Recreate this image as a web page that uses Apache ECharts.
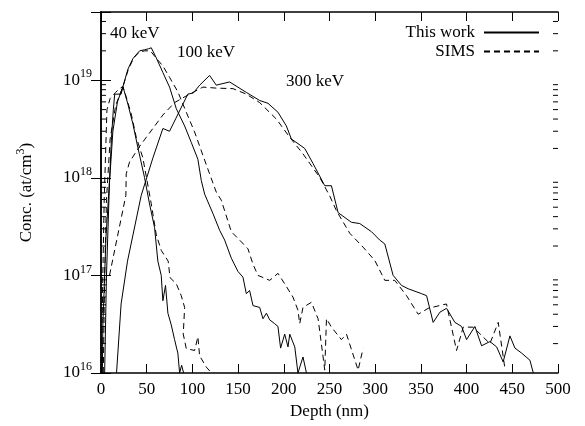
<!DOCTYPE html>
<html>
<head>
<meta charset="utf-8">
<script src="https://cdn.jsdelivr.net/npm/echarts@6/dist/echarts.min.js"></script>
<style>
  html, body { margin: 0; padding: 0; background: #fff; }
  #chart { width: 585px; height: 426px; }
</style>
</head>
<body>
<div id="chart"></div>
<script>
// depth (nm), concentration (at/cm3)
var work40 = [[1.5,1.0e16],[2.0,3.0e16],[5.5,2.5e17],[9.3,9.4e17],[11.5,2.6e18],[13.5,5.0e18],[15.0,7.2e18],[22.0,7.2e18],[24.0,8.6e18],[29.4,5.7e18],[34.8,3.6e18],[40.3,2.05e18],[47.6,1.01e18],[53.1,5.4e17],[58.6,3.1e17],[62.2,1.4e17],[65.9,1.0e17],[67.7,5.5e16],[70.6,7.9e16],[73.2,4.1e16],[76.9,3.1e16],[80.5,2.2e16],[82.7,1.8e16],[84.1,1.6e16],[86.0,1.0e16],[88.2,1.2e16],[90.4,1.0e16]];
var sims40 = [[0.5,1.0e16],[2.0,1.0e17],[3.5,6.0e17],[6.5,5.0e18],[10.0,6.5e18],[16.0,7.5e18],[20.0,8.2e18],[24.0,8.6e18],[27.5,6.8e18],[33.1,4.5e18],[38.6,2.6e18],[45.8,1.6e18],[55.0,5.4e17],[60.5,2.6e17],[66.0,1.8e17],[73.5,1.4e17],[75.5,9.5e16],[82.4,8.2e16],[87.8,6.2e16],[91.5,4.7e16],[90.0,2.5e16],[93.3,1.78e16],[102.4,1.7e16],[106.0,2.35e16],[107.9,1.5e16],[115.2,1.15e16],[121.0,1.0e16]];
var work100 = [[4.0,1.0e16],[6.0,1.0e17],[9.3,9.0e17],[13.0,3.0e18],[18.0,6.0e18],[24.0,8.6e18],[29.5,1.3e19],[34.8,1.66e19],[42.2,2.0e19],[47.6,2.05e19],[52.0,2.1e19],[55.0,2.15e19],[60.4,1.7e19],[67.7,1.2e19],[75.0,8.5e18],[82.4,5.1e18],[91.5,3.4e18],[98.8,2.3e18],[106.0,1.55e18],[109.7,9.4e17],[113.4,6.8e17],[122.5,4.3e17],[129.8,2.9e17],[135.3,2.3e17],[142.6,1.5e17],[149.8,1.1e17],[155.3,9.6e16],[159.0,6.5e16],[162.6,7.0e16],[166.3,4.9e16],[173.6,4.7e16],[177.2,3.6e16],[181.0,4.1e16],[184.6,3.5e16],[190.0,3.2e16],[193.6,3.0e16],[196.5,1.8e16],[201.0,2.5e16],[204.6,1.85e16],[206.5,2.5e16],[212.0,1.85e16],[215.5,1.0e16],[221.0,1.46e16],[224.8,1.0e16]];
var sims100 = [[2.5,1.0e16],[4.0,1.0e17],[6.0,6.0e17],[10.0,2.5e18],[16.0,5.5e18],[24.0,8.6e18],[30.0,1.3e19],[36.0,1.7e19],[42.0,1.95e19],[48.0,2.0e19],[54.0,2.0e19],[60.0,1.7e19],[67.7,1.4e19],[75.0,1.07e19],[84.1,7.6e18],[93.3,4.7e18],[102.4,2.95e18],[111.5,1.7e18],[118.8,1.1e18],[126.2,7.1e17],[131.6,5.9e17],[142.6,2.8e17],[151.7,2.3e17],[160.8,1.87e17],[166.3,1.3e17],[171.7,1.0e17],[184.6,8.9e16],[193.6,1.05e17],[201.0,8.2e16],[210.0,6.0e16],[215.5,4.4e16],[217.4,3.2e16],[221.0,4.7e16],[230.2,5.3e16],[237.5,3.6e16],[243.0,1.46e16],[244.8,1.07e16],[246.7,3.6e16],[252.1,2.95e16],[263.0,2.2e16],[268.6,2.5e16],[281.3,1.07e16],[286.7,1.78e16]];
var work300 = [[17.0,1.0e16],[22.0,5.1e16],[29.0,1.4e17],[44.0,6.6e17],[56.8,1.6e18],[67.7,3.2e18],[75.0,3.0e18],[95.0,7.2e18],[101.0,7.4e18],[108.0,8.9e18],[118.8,1.12e19],[126.1,8.9e18],[140.7,9.6e18],[159.0,7.5e18],[173.6,6.2e18],[182.7,5.8e18],[193.6,4.7e18],[202.8,3.4e18],[208.3,2.5e18],[222.9,2.0e18],[232.0,1.4e18],[244.8,8.3e17],[252.1,8.3e17],[259.4,4.4e17],[274.0,3.5e17],[283.1,3.4e17],[296.0,2.8e17],[305.0,2.3e17],[310.5,2.1e17],[319.6,1.0e17],[328.8,7.9e16],[336.0,7.3e16],[350.7,6.5e16],[356.2,6.2e16],[363.4,3.3e16],[370.8,4.2e16],[378.1,4.6e16],[387.2,3.3e16],[394.5,3.0e16],[400.0,2.2e16],[409.1,3.0e16],[416.4,1.9e16],[425.5,2.1e16],[432.9,1.85e16],[440.0,1.3e16],[447.4,2.4e16],[452.9,1.8e16],[460.2,1.6e16],[469.3,1.35e16],[473.0,1.0e16]];
var sims300 = [[9.3,1.0e17],[27.2,6.6e17],[27.6,1.1e18],[31.2,1.45e18],[42.2,2.1e18],[56.7,3.2e18],[67.7,4.4e18],[80.5,5.9e18],[93.3,6.9e18],[111.5,8.5e18],[126.2,8.3e18],[144.4,8.2e18],[159.0,7.2e18],[173.6,5.9e18],[191.9,4.0e18],[206.5,2.6e18],[221.0,1.76e18],[239.3,1.01e18],[250.3,6.5e17],[257.6,4.6e17],[272.2,2.7e17],[286.7,1.95e17],[299.6,1.42e17],[310.5,8.9e16],[321.4,8.9e16],[334.3,6.2e16],[347.0,4.0e16],[358.0,4.6e16],[378.0,5.1e16],[389.0,1.7e16],[396.3,2.95e16],[407.2,2.95e16],[425.5,2.0e16],[434.6,3.3e16],[442.0,1.1e16]];

var energyLabels = ['40 keV', '100 keV', '300 keV'];
var legendNames = ['This work', 'SIMS'];
var yExponents = [16, 17, 18, 19];

var FONT = 'Liberation Serif';
var dash = [6, 4];

// minor log ticks 2..9 per decade (drawn on both sides)
var minorTicks = [];
for (var k = 16; k <= 19; k++) {
	for (var m = 2; m <= 9; m++) {
		var v = m * Math.pow(10, k);
		if (v < 5e19) minorTicks.push([0, v]);
	}
}

function lineSeries(name, data, dashed) {
	return {
		name: name,
		type: 'line',
		data: data,
		symbol: 'none',
		silent: true,
		lineStyle: { color: '#000', width: 1, type: dashed ? dash : 'solid' },
		itemStyle: { color: '#000' }
	};
}

var axisLine = { show: true, lineStyle: { color: '#000', width: 1.5 } };

var chart = echarts.init(document.getElementById('chart'));
chart.setOption({
	animation: false,
	backgroundColor: '#fff',
	grid: { left: 101, right: 27, top: 12, bottom: 53 },
	legend: {
		data: legendNames,
		orient: 'vertical',
		right: 40,
		top: 19,
		align: 'right',
		itemWidth: 55,
		itemHeight: 10,
		itemGap: 2,
		itemStyle: { opacity: 0 },
		textStyle: { fontFamily: FONT, fontSize: 17, color: '#000', padding: [0, 4, 0, 0] }
	},
	xAxis: [{
		type: 'value', min: 0, max: 500, interval: 50,
		position: 'bottom',
		axisLine: axisLine,
		axisTick: { show: true, inside: true, length: 9, lineStyle: { color: '#000', width: 1 } },
		axisLabel: { fontFamily: FONT, fontSize: 17, color: '#000', margin: 8 },
		splitLine: { show: false },
		name: 'Depth (nm)', nameLocation: 'middle', nameGap: 28,
		nameTextStyle: { fontFamily: FONT, fontSize: 17, color: '#000' }
	}, {
		type: 'value', min: 0, max: 500, interval: 50,
		position: 'top',
		axisLine: axisLine,
		axisTick: { show: true, inside: true, length: 9, lineStyle: { color: '#000', width: 1 } },
		axisLabel: { show: false },
		splitLine: { show: false }
	}],
	yAxis: [{
		type: 'log', logBase: 10, min: 1e16, max: 5e19,
		position: 'left',
		axisLine: axisLine,
		axisTick: { show: true, inside: true, length: 10, lineStyle: { color: '#000', width: 1 } },
		axisLabel: {
			margin: 9,
			formatter: function(val) {
				var e = Math.log10(val);
				var r = Math.round(e);
				if (Math.abs(e - r) > 1e-6 || yExponents.indexOf(r) < 0) return '';
				return '{b|10}{s|' + r + '}';
			},
			rich: {
				b: { fontFamily: FONT, fontSize: 17, color: '#000' },
				s: { fontFamily: FONT, fontSize: 12, color: '#000', padding: [0, 0, 12, 0] }
			}
		},
		splitLine: { show: false },
		name: '{a|Conc. (at/cm}{s|3}{a|)}', nameLocation: 'middle', nameGap: 62,
		nameTextStyle: {
			rich: {
				a: { fontFamily: FONT, fontSize: 17, color: '#000' },
				s: { fontFamily: FONT, fontSize: 12, color: '#000', padding: [0, 0, 12, 0] }
			}
		}
	}, {
		type: 'log', logBase: 10, min: 1e16, max: 5e19,
		position: 'right',
		axisLine: axisLine,
		axisTick: { show: true, inside: true, length: 10, lineStyle: { color: '#000', width: 1 } },
		axisLabel: { show: false },
		splitLine: { show: false }
	}],
	graphic: [
		{ type: 'text', x: 110, y: 34, style: { text: energyLabels[0], font: '17px "' + FONT + '"', fill: '#000', verticalAlign: 'middle' } },
		{ type: 'text', x: 177, y: 53, style: { text: energyLabels[1], font: '17px "' + FONT + '"', fill: '#000', verticalAlign: 'middle' } },
		{ type: 'text', x: 286, y: 82, style: { text: energyLabels[2], font: '17px "' + FONT + '"', fill: '#000', verticalAlign: 'middle' } }
	],
	series: [
		lineSeries('This work', work40, false),
		lineSeries('SIMS', sims40, true),
		lineSeries('This work', work100, false),
		lineSeries('SIMS', sims100, true),
		lineSeries('This work', work300, false),
		lineSeries('SIMS', sims300, true),
		{
			type: 'custom',
			silent: true,
			clip: false,
			data: minorTicks,
			renderItem: function(params, api) {
				var v = api.value(1);
				var a = api.coord([0, v]);
				var b = api.coord([500, v]);
				return {
					type: 'group',
					children: [
						{ type: 'line', shape: { x1: a[0], y1: a[1], x2: a[0] + 5, y2: a[1] }, style: { stroke: '#000', lineWidth: 1 } },
						{ type: 'line', shape: { x1: b[0] - 5, y1: b[1], x2: b[0], y2: b[1] }, style: { stroke: '#000', lineWidth: 1 } }
					]
				};
			}
		}
	]
});
</script>
</body>
</html>
